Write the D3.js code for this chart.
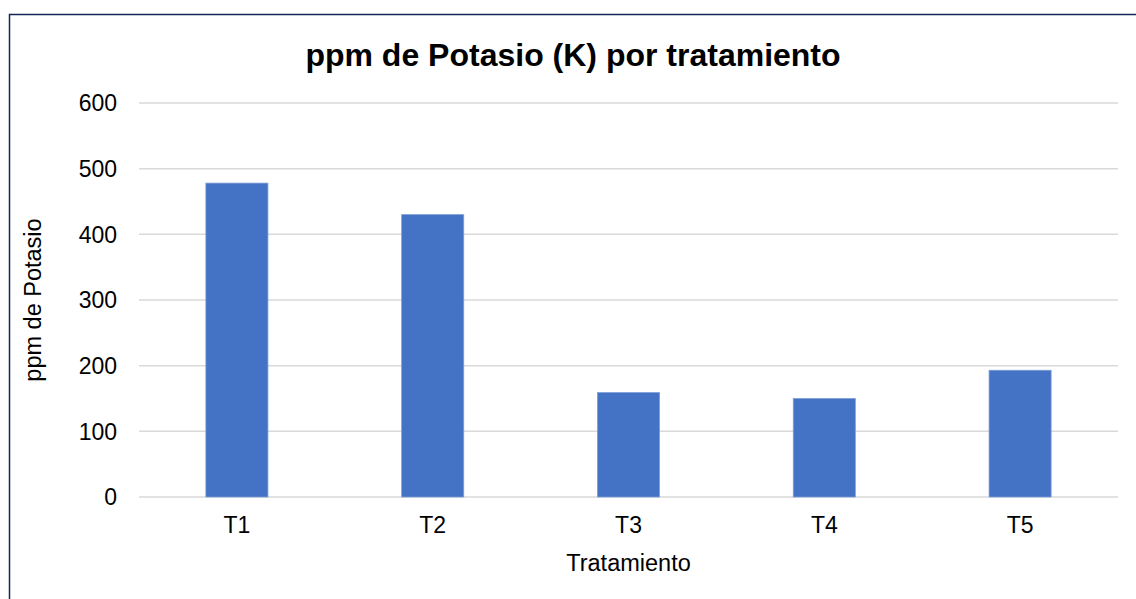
<!DOCTYPE html>
<html>
<head>
<meta charset="utf-8">
<script src="https://cdn.jsdelivr.net/npm/d3@7"></script>
<style>
  body { margin: 0; background: #fff; }
  svg text { font-family: "Liberation Sans", Arial, sans-serif; }
</style>
</head>
<body>
<div id="chart"></div>
<script>
// data
const categories = ["T1", "T2", "T3", "T4", "T5"];
const values = [478, 430, 159, 150, 193];
const yTicks = [0, 100, 200, 300, 400, 500, 600];

const width = 1136;
const height = 599;
const margin = { top: 103, right: 18, bottom: 102, left: 139 };

const svg = d3.select("#chart")
  .append("svg")
  .attr("width", width)
  .attr("height", height);

// outer frame (only left and top edges visible in the screenshot)
svg.append("path")
  .attr("d", "M9.5," + height + " V14.5 H" + width)
  .attr("fill", "none")
  .attr("stroke", "#13275a")
  .attr("stroke-width", 1.5);

const x = d3.scaleBand()
  .domain(categories)
  .range([margin.left, width - margin.right])
  .paddingInner(0.683)
  .paddingOuter(0.3415);

const y = d3.scaleLinear()
  .domain([0, 600])
  .range([height - margin.bottom, margin.top]);

// gridlines
svg.append("g")
  .selectAll("line")
  .data(yTicks)
  .enter().append("line")
  .attr("x1", margin.left)
  .attr("x2", width - margin.right)
  .attr("y1", d => y(d))
  .attr("y2", d => y(d))
  .attr("stroke", "#d9d9d9")
  .attr("stroke-width", 1.5);

// y tick labels
svg.append("g")
  .selectAll("text")
  .data(yTicks)
  .enter().append("text")
  .attr("x", 117)
  .attr("y", d => y(d))
  .attr("dy", "0.36em")
  .attr("text-anchor", "end")
  .attr("font-size", 23)
  .attr("fill", "#000")
  .text(d => d);

// bars
svg.append("g")
  .selectAll("rect")
  .data(values)
  .enter().append("rect")
  .attr("x", (d, i) => x(categories[i]))
  .attr("width", x.bandwidth())
  .attr("y", d => y(d))
  .attr("height", d => y(0) - y(d))
  .attr("fill", "#4472c4")
  .attr("stroke", "#7c9ed8")
  .attr("stroke-width", 0.8);

// x tick labels
svg.append("g")
  .selectAll("text")
  .data(categories)
  .enter().append("text")
  .attr("x", d => x(d) + x.bandwidth() / 2)
  .attr("y", 533)
  .attr("text-anchor", "middle")
  .attr("font-size", 23)
  .attr("fill", "#000")
  .text(d => d);

// title
svg.append("text")
  .attr("x", 573)
  .attr("y", 66)
  .attr("text-anchor", "middle")
  .attr("font-size", 32)
  .attr("font-weight", "bold")
  .attr("fill", "#000")
  .text("ppm de Potasio (K) por tratamiento");

// axis titles
svg.append("text")
  .attr("x", (margin.left + width - margin.right) / 2)
  .attr("y", 571)
  .attr("text-anchor", "middle")
  .attr("font-size", 23.5)
  .attr("fill", "#000")
  .text("Tratamiento");

svg.append("text")
  .attr("transform", "translate(41," + y(300) + ") rotate(-90)")
  .attr("text-anchor", "middle")
  .attr("font-size", 23.5)
  .attr("fill", "#000")
  .text("ppm de Potasio");
</script>
</body>
</html>
